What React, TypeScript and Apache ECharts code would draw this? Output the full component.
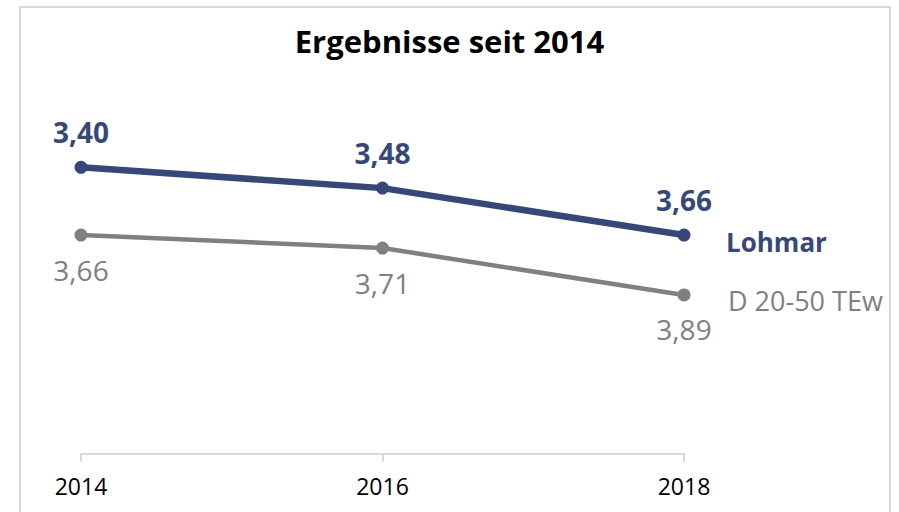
import React, { useEffect, useRef } from "react";
import * as echarts from "echarts";

const years = ["2014", "2016", "2018"];
const lohmar = [3.4, 3.48, 3.66];
const dRef = [3.66, 3.71, 3.89];
const seriesNames = ["Lohmar", "D 20-50 TEw"];
const titleText = "Ergebnisse seit 2014";

const NAVY = "#374878";
const GRAY = "#808080";
const FONT = "'Open Sans', sans-serif";

const fmt = (v: number) => v.toFixed(2).replace(".", ",");

export default function App() {
  const ref = useRef<HTMLDivElement>(null);
  useEffect(() => {
    const chart = echarts.init(ref.current!, null, { renderer: "svg" });
    chart.setOption({
      animation: false,
      backgroundColor: "#ffffff",
      title: {
        text: titleText,
        left: "center",
        top: 20,
        textStyle: { fontFamily: FONT, fontWeight: "bold", fontSize: 31, color: "#000" },
      },
      grid: { left: 81, right: 215, top: 63, bottom: 58 },
      xAxis: {
        type: "category",
        data: years,
        boundaryGap: false,
        axisLine: { lineStyle: { color: "#d9d9d9", width: 2 } },
        axisTick: { show: true, length: 8, lineStyle: { color: "#d9d9d9", width: 2 } },
        axisLabel: { color: "#000", fontFamily: FONT, fontSize: 23, margin: 20 },
      },
      yAxis: {
        type: "value",
        inverse: true,
        min: 3.0,
        max: 4.5,
        show: false,
        splitLine: { show: false },
      },
      series: [
        {
          name: seriesNames[0],
          type: "line",
          data: lohmar,
          symbol: "circle",
          symbolSize: 13,
          lineStyle: { color: NAVY, width: 6.5 },
          itemStyle: { color: NAVY },
          label: {
            show: true,
            position: "top",
            distance: 15,
            formatter: (p: any) => fmt(p.value),
            color: NAVY,
            fontFamily: FONT,
            fontWeight: "bold",
            fontSize: 28,
          },
          endLabel: {
            show: true,
            formatter: "{a}",
            offset: [34, 7],
            color: NAVY,
            fontFamily: FONT,
            fontWeight: "bold",
            fontSize: 26,
          },
        },
        {
          name: seriesNames[1],
          type: "line",
          data: dRef,
          symbol: "circle",
          symbolSize: 13,
          lineStyle: { color: GRAY, width: 4.5 },
          itemStyle: { color: GRAY },
          label: {
            show: true,
            position: "bottom",
            distance: 14,
            formatter: (p: any) => fmt(p.value),
            color: GRAY,
            fontFamily: FONT,
            fontSize: 28,
          },
          endLabel: {
            show: true,
            formatter: "{a}",
            offset: [36, 6],
            color: GRAY,
            fontFamily: FONT,
            fontSize: 27,
          },
        },
      ],
      graphic: [
        {
          type: "rect",
          z: 100,
          shape: { x: 891, y: 0, width: 20, height: 512 },
          style: { fill: "#ffffff" },
        },
        {
          type: "rect",
          z: 101,
          shape: { x: 20, y: 7, width: 870, height: 520 },
          style: { fill: "none", stroke: "#d9d9d9", lineWidth: 2 },
        },
      ],
    });
    return () => chart.dispose();
  }, []);
  return (
    <div
      ref={ref}
      style={{ position: "absolute", left: 0, top: 0, width: 899, height: 512 }}
    />
  );
}
